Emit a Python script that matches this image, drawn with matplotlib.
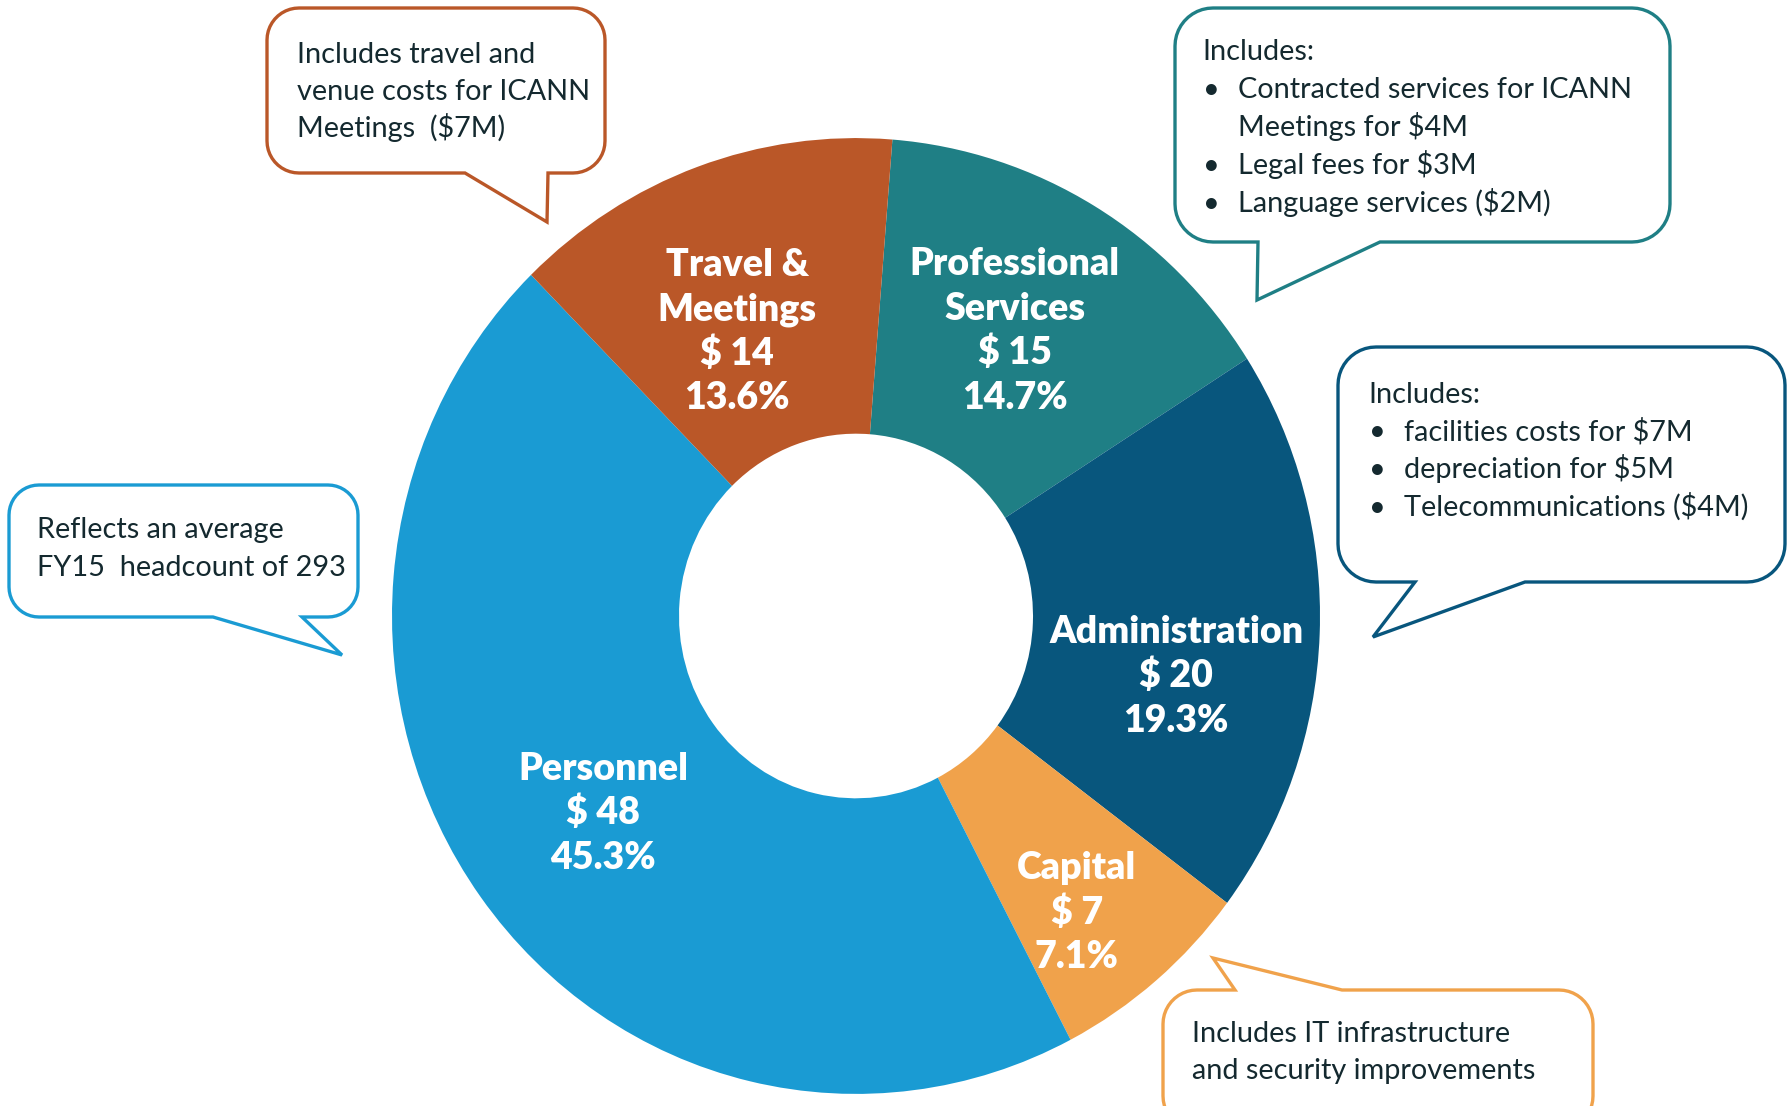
import matplotlib.pyplot as plt
import numpy as np

plt.rcParams['font.family'] = ['Lato', 'DejaVu Sans']

# datos del gráfico (en sentido horario desde arriba)
categorias = ['Professional\nServices', 'Administration', 'Capital', 'Personnel', 'Travel &\nMeetings']
montos = [15, 20, 7, 48, 14]
porcentajes = [14.7, 19.3, 7.1, 45.3, 13.6]
colores = ['#1F7F85', '#08567D', '#F0A24B', '#1A9BD3', '#BA5728']

# textos de los globos
nota_travel = ['Includes travel and', 'venue costs for ICANN', 'Meetings  ($7M)']
nota_prof_titulo = 'Includes:'
nota_prof = ['Contracted services for ICANN', 'Meetings for $4M', 'Legal fees for $3M', 'Language services ($2M)']
nota_prof_bullets = [True, False, True, True]
nota_admin_titulo = 'Includes:'
nota_admin = ['facilities costs for $7M', 'depreciation for $5M', 'Telecommunications ($4M)']
nota_personal = ['Reflects an average', 'FY15  headcount of 293']
nota_capital = ['Includes IT infrastructure', 'and security improvements']

W, H = 1791, 1106
TXT = '#14292F'
FS = 20.8
ESTIRA = 1.03  # el anillo original es algo más alto que ancho


def Y(y):
    # coordenadas de pixel (y hacia abajo) -> datos
    return H - y


def globo(ax, x0, y0, x1, y1, r, lado, base_a, base_b, punta, color):
    """Contorno redondeado con cola; base_a < base_b sobre el borde indicado"""
    pts = []

    def arco(cx, cy, a0, a1):
        for a in np.linspace(np.radians(a0), np.radians(a1), 12):
            pts.append((cx + r * np.cos(a), cy + r * np.sin(a)))

    pts.append((x0 + r, y0))
    if lado == 'top':
        pts += [(base_a, y0), punta, (base_b, y0)]
    arco(x1 - r, y0 + r, -90, 0)
    arco(x1 - r, y1 - r, 0, 90)
    if lado == 'bottom':
        pts += [(base_b, y1), punta, (base_a, y1)]
    arco(x0 + r, y1 - r, 90, 180)
    arco(x0 + r, y0 + r, 180, 270)
    pts = np.array(pts)
    ax.fill(pts[:, 0], Y(pts[:, 1]), facecolor='white', edgecolor=color,
            linewidth=2.4, joinstyle='miter', zorder=5)


def lineas(ax, x, y0, dy, textos):
    for i, t in enumerate(textos):
        ax.text(x, Y(y0 + i * dy), t, fontsize=FS, color=TXT, va='baseline', ha='left', zorder=6)


def viñetas(ax, xb, xt, y0, dy, textos, bullets=None):
    if bullets is None:
        bullets = [True] * len(textos)
    for i, (t, b) in enumerate(zip(textos, bullets)):
        yy = y0 + i * dy
        if b:
            ax.text(xb, Y(yy), '•', fontsize=FS, color=TXT, va='baseline', zorder=6)
        ax.text(xt, Y(yy), t, fontsize=FS, color=TXT, va='baseline', zorder=6)


fig = plt.figure(figsize=(W / 100, H / 100), dpi=100)

# ---- anillo ----
ax_pie = fig.add_axes([0, 0, 1, 1])
cx, cy = 856, Y(616)
r_ext, r_int = 464, 177
wedges, _ = ax_pie.pie(porcentajes, colors=colores, startangle=85.5, counterclock=False,
                       radius=r_ext, center=(cx, cy),
                       wedgeprops=dict(width=r_ext - r_int, linewidth=0))
ax_pie.set_xlim(0, W)
ax_pie.set_ylim(cy - cy / ESTIRA, cy + (H - cy) / ESTIRA)
ax_pie.set_aspect('auto')
ax_pie.axis('off')

# etiquetas dentro de cada segmento
radio_etq = [321, 325, 361, 316, 303]
giro_etq = [1.3, -7.8, -2.6, 0.8, 3.1]
paso = 44.5 / ESTIRA
cap = 13.5 / ESTIRA
for w, cat, m, p, re, dg in zip(wedges, categorias, montos, porcentajes, radio_etq, giro_etq):
    ang = np.radians((w.theta1 + w.theta2) / 2 + dg)
    x = cx + re * np.cos(ang)
    y = cy + re * np.sin(ang)
    filas = cat.split('\n') + [f'$ {m}', f'{p}%']
    n = len(filas)
    for k, f in enumerate(filas):
        yb = y + ((n - 1) / 2 - k) * paso - cap
        ax_pie.text(x, yb, f, ha='center', va='baseline', color='white',
                    fontsize=27, fontweight='heavy', zorder=4)

# ---- globos ----
ax = fig.add_axes([0, 0, 1, 1])
ax.patch.set_visible(False)

globo(ax, 267, 8, 605, 173, 32, 'bottom', 465, 548, (547, 222), colores[4])
lineas(ax, 297, 63, 37, nota_travel)

globo(ax, 1175, 8, 1670, 242, 38, 'bottom', 1258, 1380, (1257, 300), colores[0])
lineas(ax, 1202, 60, 37, [nota_prof_titulo])
viñetas(ax, 1203, 1238, 98, 38, nota_prof, nota_prof_bullets)

globo(ax, 1338, 347, 1785, 582, 38, 'bottom', 1415, 1525, (1373, 637), colores[1])
lineas(ax, 1368, 403, 37, [nota_admin_titulo])
viñetas(ax, 1369, 1404, 440, 38, nota_admin)

globo(ax, 9, 485, 358, 617, 30, 'bottom', 213, 302, (342, 655), colores[3])
lineas(ax, 37, 538, 38, nota_personal)

globo(ax, 1163, 990, 1593, 1130, 34, 'top', 1235, 1342, (1213, 958), colores[2])
lineas(ax, 1192, 1042, 37, nota_capital)

ax.set_xlim(0, W)
ax.set_ylim(0, H)
ax.axis('off')

plt.savefig('out.png', dpi=100, facecolor='white')
